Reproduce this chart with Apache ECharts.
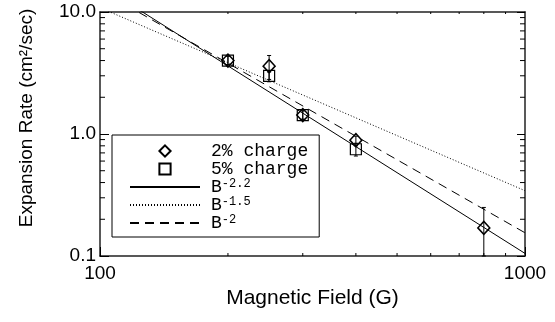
<!DOCTYPE html>
<html>
<head>
<meta charset="utf-8">
<script src="https://cdn.jsdelivr.net/npm/echarts@6/dist/echarts.min.js"></script>
<style>
html,body{margin:0;padding:0;background:#fff;}
#main{width:555px;height:322px;}
</style>
</head>
<body>
<div id="main"></div>
<script>
// measured rates, [field (G), rate (cm2/sec)]
var charge2 = [[200, 4.0], [250, 3.6], [300, 1.43], [400, 0.89], [800, 0.17]];
var charge5 = [[200, 4.0], [250, 3.0], [300, 1.43], [400, 0.75]];
// error bars, [field, low, high]
var charge2Err = [[200, 3.7, 4.35], [250, 2.8, 4.4], [300, 1.32, 1.55], [400, 0.80, 0.96], [800, 0.1, 0.25]];
var charge5Err = [[200, 3.7, 4.35], [250, 2.68, 3.22], [300, 1.32, 1.55], [400, 0.66, 0.84]];
// power law fits, end points read at B=100 and B=1000
var fit22 = [[100, 16.6], [1000, 0.105]];
var fit15 = [[100, 10.85], [1000, 0.343]];
var fit20 = [[100, 15.1], [1000, 0.155]];
// log minor ticks
var xMinor = [200, 300, 400, 500, 600, 700, 800, 900];
var yMinor = [0.2, 0.3, 0.4, 0.5, 0.6, 0.7, 0.8, 0.9, 2, 3, 4, 5, 6, 7, 8, 9];
var legendNames = ['2% charge', '5% charge', 'B-2.2', 'B-1.5', 'B-2'];

var chart = echarts.init(document.getElementById('main'));

var axisFont = {fontFamily: 'Liberation Sans', fontSize: 19, color: '#000'};
var lineAxis = {show: true, lineStyle: {color: '#222', width: 1.5}};
var noMark = {color: 'rgba(0,0,0,0)', borderWidth: 0};
var noLine = {width: 0, opacity: 0};

function errBar(params, api) {
    var lo = api.coord([api.value(0), api.value(1)]);
    var hi = api.coord([api.value(0), api.value(2)]);
    var st = {stroke: '#000', lineWidth: 1};
    return {type: 'group', children: [
        {type: 'line', shape: {x1: lo[0], y1: lo[1], x2: hi[0], y2: hi[1]}, style: st},
        {type: 'line', shape: {x1: hi[0] - 2, y1: hi[1], x2: hi[0] + 2, y2: hi[1]}, style: st},
        {type: 'line', shape: {x1: lo[0] - 2, y1: lo[1], x2: lo[0] + 2, y2: lo[1]}, style: st}
    ]};
}

function yTick(params, api) {
    var cs = params.coordSys;
    var p = api.coord([100, api.value(0)]);
    var st = {stroke: '#000', lineWidth: 1};
    return {type: 'group', children: [
        {type: 'line', shape: {x1: cs.x, y1: p[1], x2: cs.x + 5, y2: p[1]}, style: st},
        {type: 'line', shape: {x1: cs.x + cs.width - 5, y1: p[1], x2: cs.x + cs.width, y2: p[1]}, style: st}
    ]};
}

function xTick(params, api) {
    var cs = params.coordSys;
    var p = api.coord([api.value(0), 1]);
    var st = {stroke: '#000', lineWidth: 1};
    return {type: 'group', children: [
        {type: 'line', shape: {x1: p[0], y1: cs.y + cs.height, x2: p[0], y2: cs.y + cs.height - 3}, style: st},
        {type: 'line', shape: {x1: p[0], y1: cs.y, x2: p[0], y2: cs.y + 2}, style: st}
    ]};
}

var option = {
    backgroundColor: '#fff',
    animation: false,
    grid: {left: 100, right: 30, top: 12, bottom: 66, outerBoundsMode: 'none'},
    xAxis: [{
        type: 'log', min: 100, max: 1000,
        axisLine: lineAxis,
        axisTick: {inside: true, length: 9, lineStyle: {color: '#000'}},
        axisLabel: Object.assign({margin: 8, formatter: function (v) { return String(Math.round(v)); }}, axisFont),
        splitLine: {show: false},
        name: 'Magnetic Field (G)', nameLocation: 'middle', nameGap: 32,
        nameTextStyle: {fontFamily: 'Liberation Sans', fontSize: 21, color: '#000'}
    }, {
        type: 'log', min: 100, max: 1000, position: 'top',
        axisLine: lineAxis,
        axisTick: {show: false}, axisLabel: {show: false}, splitLine: {show: false}
    }],
    yAxis: [{
        type: 'log', min: 0.1, max: 10,
        axisLine: lineAxis,
        axisTick: {inside: true, length: 9, lineStyle: {color: '#000'}},
        axisLabel: Object.assign({margin: 4, formatter: function (v) { return v.toFixed(1); }}, axisFont),
        splitLine: {show: false}
    }, {
        type: 'log', min: 0.1, max: 10, position: 'right',
        axisLine: lineAxis,
        axisTick: {inside: true, length: 8, lineStyle: {color: '#000'}},
        axisLabel: {show: false}, splitLine: {show: false}
    }],
    graphic: [{
        type: 'text', x: 27, y: 118, rotation: Math.PI / 2,
        style: {text: 'Expansion Rate (cm\u00b2/sec)', fontFamily: 'Liberation Sans', fontSize: 19,
            fill: '#000', align: 'center', verticalAlign: 'middle'}
    }],
    legend: {
        data: legendNames,
        orient: 'vertical', left: 112, top: 135,
        padding: [7, 11, 5, 17],
        itemWidth: 70, itemHeight: 14, itemGap: 0,
        borderColor: '#000', borderWidth: 1,
        selectedMode: false,
        formatter: function (name) {
            if (name.charAt(0) === 'B') return 'B{sup|' + name.slice(1) + '}';
            return name;
        },
        textStyle: {
            fontFamily: 'Liberation Mono', fontSize: 18, lineHeight: 18, color: '#000',
            padding: [0, 0, 0, 6],
            rich: {sup: {fontFamily: 'Liberation Mono', fontSize: 12, lineHeight: 8, verticalAlign: 'top', color: '#000'}}
        }
    },
    series: [
        {type: 'custom', renderItem: yTick, data: yMinor, silent: true, z: 1},
        {type: 'custom', renderItem: xTick, data: xMinor, silent: true, z: 1},
        {name: 'B-2.2', type: 'line', data: fit22, symbol: 'none', silent: true, itemStyle: noMark,
            lineStyle: {color: '#000', width: 1, type: 'solid'}},
        {name: 'B-1.5', type: 'line', data: fit15, symbol: 'none', silent: true, itemStyle: noMark,
            lineStyle: {color: '#000', width: 1, type: [1, 2]}},
        {name: 'B-2', type: 'line', data: fit20, symbol: 'none', silent: true, itemStyle: noMark,
            lineStyle: {color: '#000', width: 1, type: [9, 6]}},
        {type: 'custom', renderItem: errBar, data: charge2Err, silent: true, z: 3},
        {type: 'custom', renderItem: errBar, data: charge5Err, silent: true, z: 3},
        // drawn as line series with a hidden line, so the legend keeps the marker shape
        {name: '2% charge', type: 'line', data: charge2, symbol: 'diamond', symbolSize: [12, 13], z: 4,
            showSymbol: true, lineStyle: noLine,
            itemStyle: {color: 'rgba(0,0,0,0)', borderColor: '#000', borderWidth: 1.5}},
        {name: '5% charge', type: 'line', data: charge5, symbol: 'rect', symbolSize: 11, z: 4,
            showSymbol: true, lineStyle: noLine,
            itemStyle: {color: 'rgba(0,0,0,0)', borderColor: '#000', borderWidth: 1.2}}
    ]
};

chart.setOption(option);
</script>
</body>
</html>
